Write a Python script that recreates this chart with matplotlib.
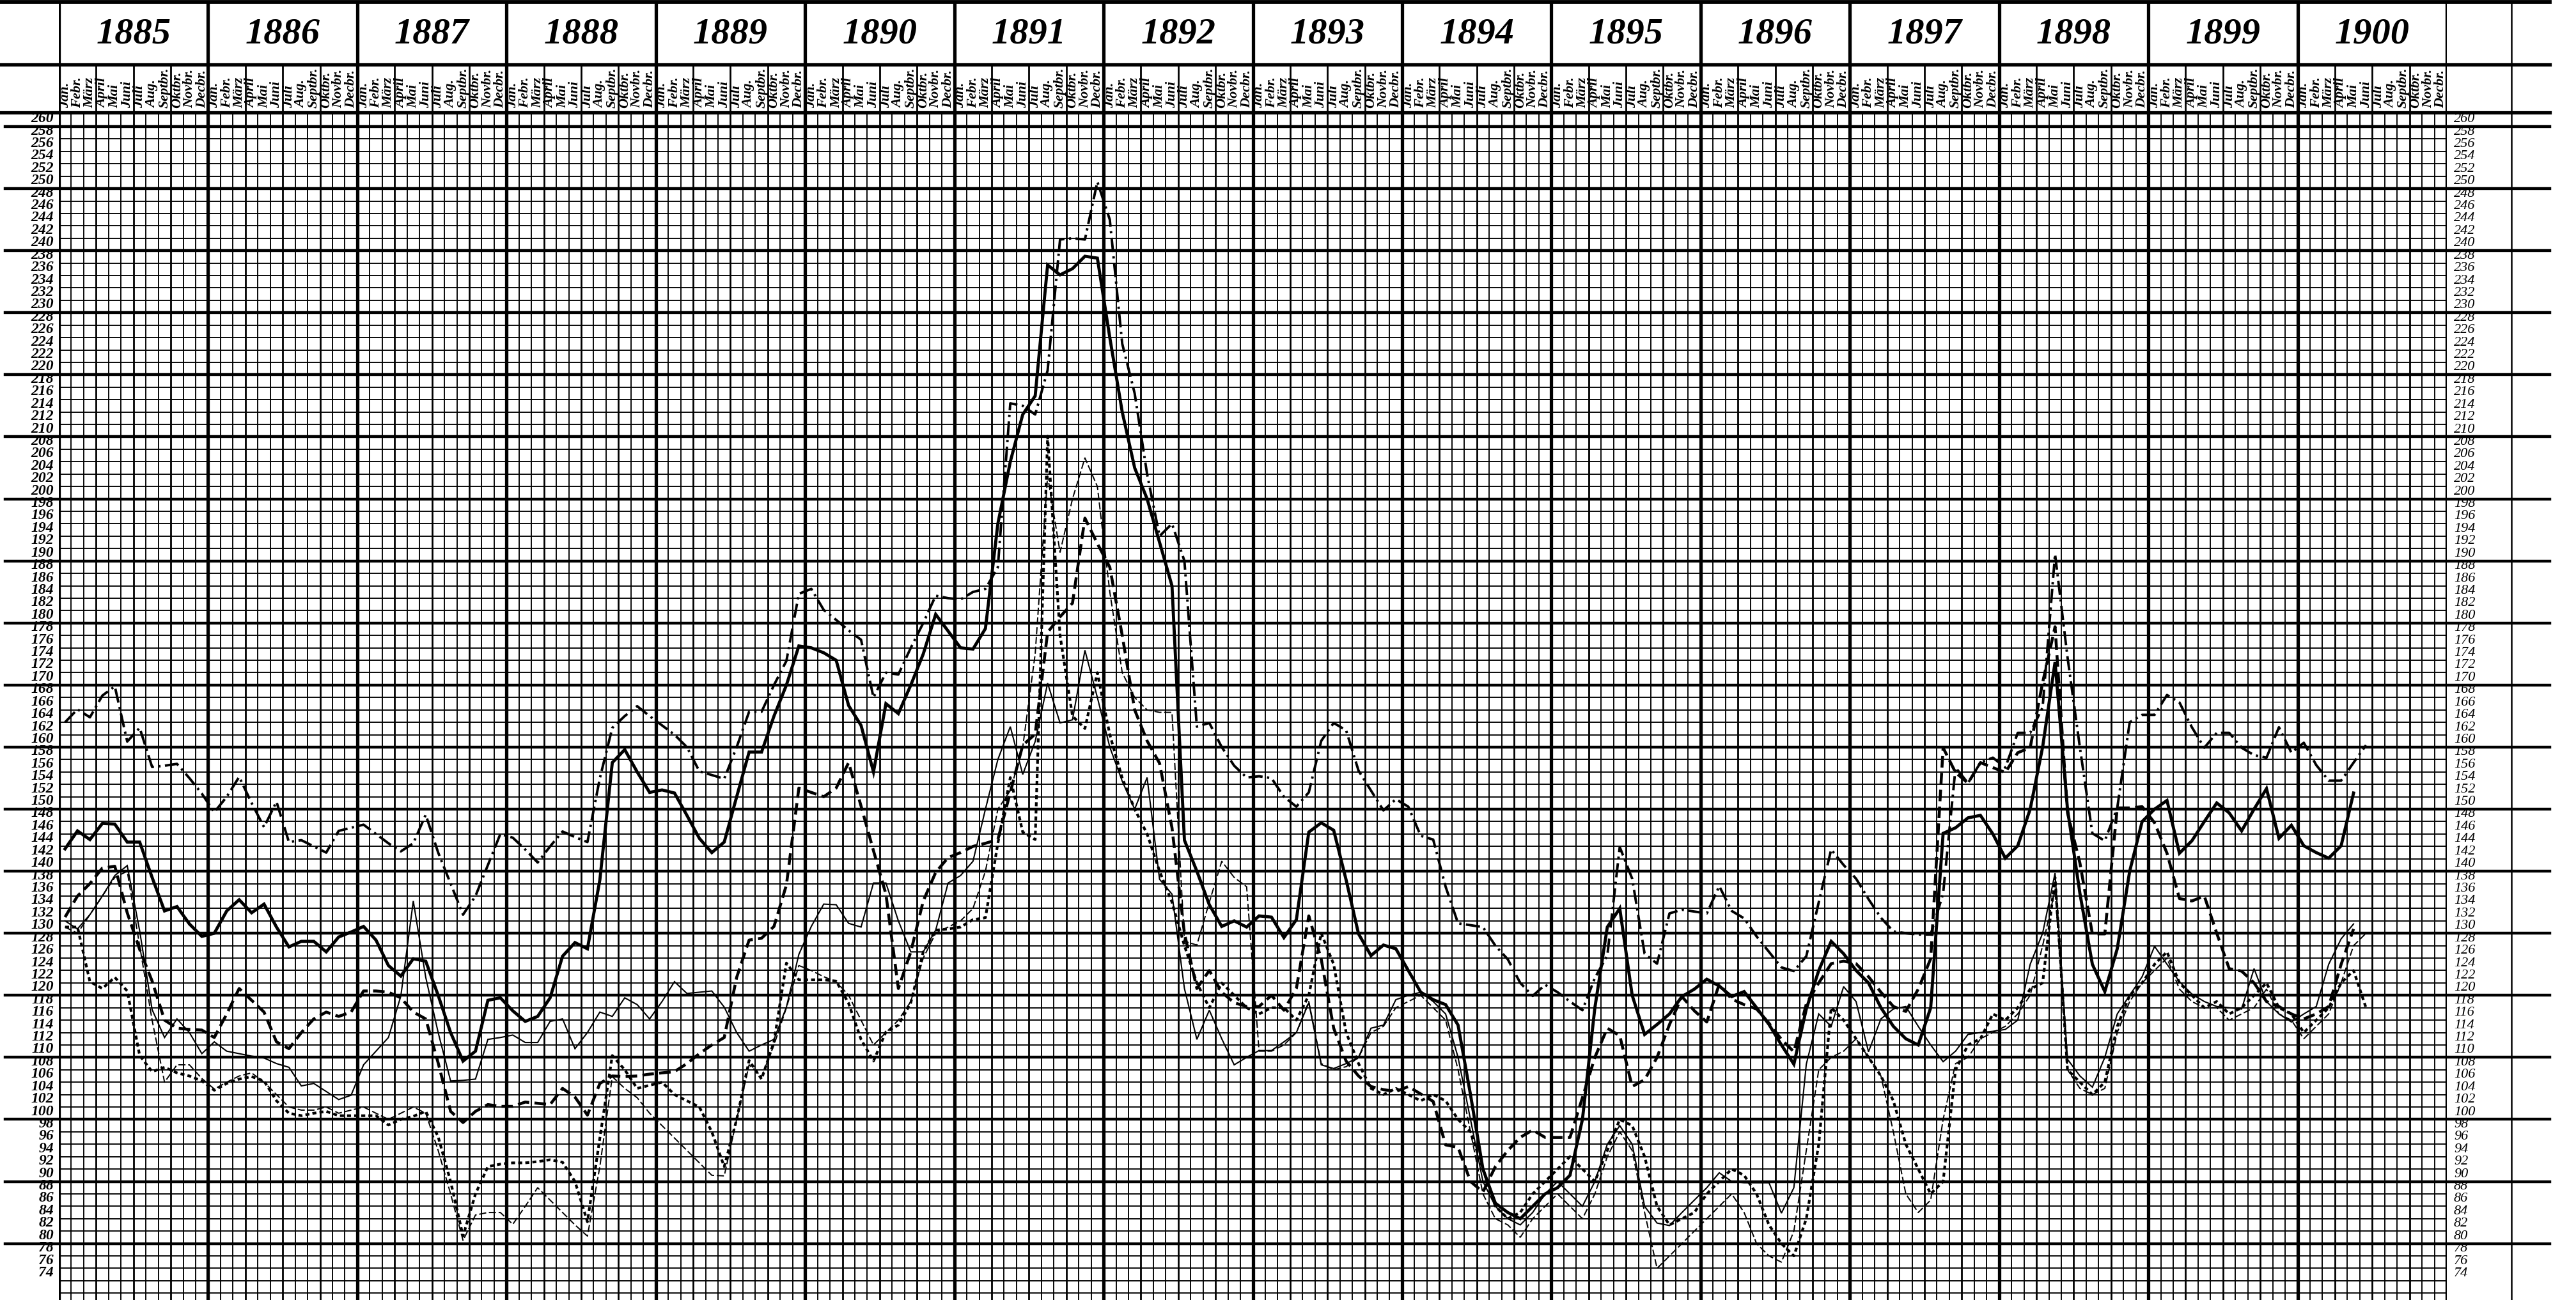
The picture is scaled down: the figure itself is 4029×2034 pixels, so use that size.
import numpy as np
import matplotlib
matplotlib.use('Agg')
import matplotlib.pyplot as plt
from matplotlib.lines import Line2D
from matplotlib.transforms import blended_transform_factory

plt.rcParams['lines.scale_dashes'] = False
plt.rcParams['font.family'] = ['Liberation Serif', 'DejaVu Serif']

# categories
years = list(range(1885, 1901))
month_names = ['Jan.', 'Febr.', 'März', 'April', 'Mai', 'Juni',
               'Juli', 'Aug.', 'Septbr.', 'Oktbr.', 'Novbr.', 'Decbr.']
y_labels = list(range(260, 73, -2))

# monthly values, first value = Jan 1885
dashdot = [
    164.0, 166.1, 164.8, 168.3, 169.8, 160.9, 163.1, 156.8, 157.0, 157.3, 155.0, 152.5,
    149.5, 152.0, 155.2, 151.0, 147.1, 151.2, 144.7, 145.0, 144.0, 143.0, 146.5, 147.0,
    147.5, 146.0, 144.5, 143.2, 144.5, 149.1, 143.0, 138.0, 133.0, 136.0, 141.0, 146.0,
    145.4, 143.5, 141.4, 144.0, 146.4, 145.5, 144.7, 155.0, 163.1, 165.0, 166.6, 165.0,
    163.5, 162.0, 160.0, 156.1, 155.5, 154.9, 160.0, 165.7, 165.7, 170.0, 173.9, 184.7,
    185.5, 182.1, 180.5, 178.8, 177.3, 168.0, 172.0, 171.7, 176.0, 180.0, 184.4, 184.0,
    183.8, 185.0, 185.5, 189.0, 215.4, 215.0, 213.6, 220.7, 241.8, 242.0, 241.8, 251.1,
    245.0, 225.0, 217.0, 204.0, 194.0, 196.0, 190.0, 163.3, 163.9, 160.0, 157.0, 155.1,
    155.3, 155.0, 152.0, 150.4, 152.7, 161.0, 163.9, 162.7, 156.2, 153.0, 149.8, 151.6,
    150.4, 145.7, 145.1, 137.5, 131.6, 131.3, 131.0, 128.0, 125.8, 122.0, 119.9, 121.7,
    120.5, 119.0, 117.6, 122.8, 126.4, 143.9, 138.8, 126.7, 125.1, 133.2, 133.8, 133.5,
    133.2, 137.6, 133.6, 132.4, 129.5, 127.0, 124.5, 123.9, 126.3, 135.0, 143.5, 141.0,
    138.8, 135.5, 132.5, 130.3, 130.0, 129.8, 129.8, 136.4, 156.7, 154.2, 157.5, 158.3,
    156.7, 162.3, 162.3, 166.4, 191.1, 174.5, 159.9, 146.1, 144.9, 150.2, 164.0, 165.2,
    165.2, 168.4, 167.2, 163.2, 159.9, 162.3, 162.3, 159.9, 158.7, 158.3, 163.2, 159.1,
    160.7, 157.1, 154.6, 154.6, 157.5, 160.3,
]

solid = [
    143.6, 146.5, 145.1, 147.7, 147.6, 144.7, 144.7, 139.0, 133.6, 134.3, 131.5, 129.5,
    130.0, 133.6, 135.4, 133.3, 134.7, 131.0, 127.8, 128.7, 128.7, 127.0, 129.4, 130.2,
    131.1, 128.9, 124.8, 123.1, 125.9, 125.5, 120.0, 114.0, 109.4, 111.0, 119.2, 119.6,
    117.5, 115.8, 116.6, 119.6, 126.3, 128.5, 127.5, 138.6, 157.5, 159.6, 156.0, 152.7,
    153.1, 152.6, 149.0, 145.3, 143.0, 144.7, 152.0, 159.2, 159.2, 165.0, 170.0, 176.3,
    176.0, 175.2, 174.0, 166.7, 163.5, 156.0, 167.0, 165.4, 170.0, 175.0, 181.4, 178.7,
    176.0, 175.8, 179.1, 196.0, 206.0, 213.6, 216.6, 237.7, 236.1, 237.1, 239.1, 238.8,
    226.0, 214.0, 205.0, 200.0, 193.0, 186.0, 145.0, 140.0, 134.6, 131.1, 132.0, 131.0,
    132.8, 132.6, 129.3, 132.2, 146.3, 147.8, 146.6, 138.6, 129.9, 126.4, 128.1, 127.5,
    124.0, 120.5, 119.3, 118.5, 115.2, 104.0, 92.0, 86.5, 85.0, 84.0, 86.0, 88.0,
    89.0, 91.0, 100.0, 118.0, 131.0, 134.0, 120.0, 113.7, 115.3, 117.0, 119.8, 121.0,
    122.6, 121.5, 119.8, 120.6, 118.0, 115.3, 112.0, 108.9, 117.8, 124.0, 128.7, 126.7,
    124.0, 122.0, 118.0, 115.0, 113.0, 112.0, 118.0, 146.1, 147.0, 148.6, 149.0, 146.0,
    142.1, 144.1, 150.0, 160.0, 173.7, 150.0, 136.4, 125.0, 120.6, 127.5, 140.0, 148.0,
    150.0, 151.4, 142.9, 144.9, 148.0, 151.0, 149.4, 146.5, 150.0, 153.3, 145.3, 147.4,
    144.1, 143.0, 142.1, 144.1, 152.6,
]

dashed = [
    132.6, 136.0, 138.0, 140.5, 140.8, 133.3, 127.4, 122.3, 116.0, 114.7, 114.5, 114.4,
    113.2, 117.0, 121.1, 119.2, 117.3, 112.5, 111.4, 114.0, 116.2, 117.3, 116.6, 117.3,
    120.7, 120.7, 120.5, 119.6, 117.3, 116.2, 109.1, 101.3, 99.5, 101.3, 102.4, 102.1,
    102.1, 102.8, 102.6, 102.4, 105.0, 103.6, 100.7, 105.8, 107.0, 106.9, 107.0, 107.3,
    107.5, 107.7, 109.0, 110.6, 112.0, 113.2, 122.9, 128.9, 129.2, 131.1, 137.8, 153.4,
    152.7, 152.0, 153.4, 157.5, 150.5, 143.3, 136.3, 121.1, 127.0, 135.2, 139.8, 142.2,
    143.0, 144.0, 144.5, 145.1, 152.7, 160.3, 162.1, 178.5, 181.0, 183.2, 196.9, 192.8,
    189.0, 178.0, 166.0, 161.0, 157.4, 147.0, 130.0, 121.1, 124.0, 120.5, 118.8, 118.2,
    118.2, 120.0, 117.6, 121.1, 132.8, 125.8, 114.7, 109.4, 107.0, 105.3, 104.8, 104.5,
    105.3, 104.1, 102.9, 95.9, 95.5, 90.0, 88.3, 92.4, 95.0, 97.1, 98.3, 97.1,
    97.1, 97.1, 103.5, 110.0, 114.7, 113.5, 105.3, 106.4, 110.0, 115.3, 119.8, 117.5,
    115.7, 121.8, 119.4, 118.5, 117.8, 115.5, 112.9, 110.9, 118.6, 122.0, 125.1, 125.5,
    125.1, 123.0, 120.5, 118.2, 117.4, 121.0, 125.9, 159.9, 155.9, 154.2, 157.5, 156.7,
    155.9, 159.1, 159.9, 170.4, 179.4, 149.4, 141.3, 129.9, 129.9, 150.2, 150.2, 150.4,
    147.8, 142.9, 135.6, 135.2, 136.0, 130.0, 124.3, 123.9, 122.0, 119.0, 118.2, 117.0,
    116.2, 117.0, 118.2, 125.0, 130.7,
]

thin = [
    132.0, 130.7, 133.0, 136.0, 139.3, 140.9, 130.4, 117.7, 113.2, 116.2, 114.0, 110.6,
    112.5, 111.0, 110.6, 110.2, 109.9, 109.0, 108.4, 105.4, 105.8, 104.5, 103.2, 103.9,
    108.8, 111.0, 113.2, 119.9, 135.2, 122.9, 114.0, 106.2, 106.3, 106.5, 112.9, 113.2,
    113.6, 112.4, 112.4, 115.8, 116.2, 111.4, 114.0, 117.3, 116.6, 119.6, 118.5, 116.2,
    119.0, 122.2, 120.3, 120.5, 120.7, 118.1, 114.0, 111.0, 112.0, 112.9, 118.1, 126.6,
    131.1, 134.7, 134.6, 131.6, 131.0, 138.1, 138.1, 132.0, 127.0, 127.0, 130.5, 138.1,
    139.3, 141.6, 150.0, 158.0, 163.3, 155.6, 160.9, 170.3, 163.9, 164.4, 175.6, 168.0,
    160.0, 154.5, 150.0, 155.1, 138.7, 136.3, 121.1, 112.9, 117.6, 113.0, 108.8, 110.0,
    111.1, 111.1, 112.5, 114.0, 118.8, 108.8, 108.2, 109.0, 110.0, 114.7, 115.2, 119.3,
    120.0, 120.5, 119.0, 117.0, 110.0, 100.0, 90.0, 86.0, 84.0, 83.0, 85.0, 88.0,
    90.0, 88.0, 86.0, 90.0, 96.0, 99.0, 96.0, 86.0, 83.3, 82.9, 85.0, 87.0,
    89.0, 91.4, 90.0, 89.8, 89.8, 89.8, 84.9, 89.0, 108.9, 117.0, 115.0, 121.4,
    119.0, 110.9, 116.2, 117.8, 118.2, 115.0, 112.0, 109.3, 111.0, 113.7, 114.0, 114.2,
    114.5, 116.0, 125.0, 130.0, 139.7, 109.7, 107.0, 105.2, 110.0, 117.0, 120.0, 123.0,
    127.9, 125.0, 122.2, 120.2, 119.0, 118.2, 118.0, 117.8, 124.3, 119.0, 117.0, 115.7,
    117.0, 118.2, 125.0, 129.1, 131.5,
]

dotted = [
    131.0, 131.0, 122.2, 121.1, 122.9, 120.7, 110.3, 107.7, 108.4, 107.5, 107.0, 106.2,
    104.7, 105.8, 106.5, 106.9, 106.2, 103.0, 101.0, 100.6, 101.0, 101.3, 100.6, 100.6,
    100.6, 100.6, 99.1, 100.0, 100.5, 101.3, 97.2, 90.0, 81.2, 88.0, 92.4, 92.8,
    93.0, 93.0, 93.2, 93.5, 93.1, 90.0, 83.5, 97.0, 110.3, 108.0, 105.0, 105.5,
    106.0, 104.0, 103.0, 102.0, 98.0, 92.4, 100.0, 109.5, 106.5, 112.5, 125.2, 122.5,
    122.5, 122.5, 122.3, 118.7, 112.9, 109.4, 114.1, 115.2, 118.8, 127.0, 130.5, 130.7,
    131.0, 132.2, 132.5, 144.5, 155.1, 146.3, 145.1, 210.1, 178.0, 165.0, 163.0, 172.0,
    162.0, 155.0, 150.0, 146.0, 140.0, 135.0, 128.0, 122.0, 118.0, 122.0, 120.0, 118.0,
    117.0, 118.0, 118.0, 116.0, 120.0, 130.0, 125.0, 114.0, 109.0, 105.0, 104.0, 105.0,
    104.0, 103.0, 104.0, 103.0, 100.0, 98.0, 92.0, 86.0, 84.0, 85.0, 88.0, 90.0,
    92.0, 94.0, 92.0, 90.0, 95.0, 100.0, 99.0, 94.0, 86.0, 83.0, 84.0, 85.0,
    88.0, 90.0, 92.0, 91.0, 88.0, 83.0, 80.0, 78.0, 84.0, 96.0, 118.0, 116.0,
    113.0, 110.0, 107.0, 103.0, 96.0, 92.0, 88.0, 90.0, 108.0, 112.0, 113.0, 117.0,
    116.0, 118.0, 121.0, 122.0, 139.0, 108.0, 106.0, 104.0, 106.0, 115.0, 120.0, 122.0,
    125.0, 127.0, 122.0, 120.0, 118.0, 119.0, 117.0, 118.0, 120.0, 122.0, 118.0, 117.0,
    114.0, 116.0, 118.0, 122.0, 124.0, 118.0,
]

thin_dashed = [
    131.0, 130.0, 133.0, 136.0, 139.0, 140.0, 128.0, 116.0, 106.0, 108.8, 108.8, 106.6,
    104.9, 106.0, 107.0, 107.5, 106.0, 104.0, 102.0, 101.5, 101.5, 102.0, 101.0, 101.5,
    102.0, 101.0, 100.0, 101.0, 102.0, 101.0, 95.0, 88.0, 80.5, 84.6, 85.0, 85.0,
    83.1, 86.0, 89.0, 87.0, 85.0, 83.0, 81.2, 92.4, 106.9, 105.0, 103.5, 101.0,
    99.0, 97.0, 95.0, 93.0, 91.0, 90.9, 100.0, 108.8, 106.9, 112.0, 118.0, 124.8,
    124.0, 123.0, 122.2, 120.0, 116.0, 112.0, 114.0, 116.0, 119.0, 126.0, 130.0, 131.0,
    132.0, 134.0, 140.0, 150.0, 153.0, 160.0, 175.0, 203.7, 191.4, 200.0, 206.6, 202.0,
    185.0, 172.0, 168.0, 166.0, 165.6, 165.6, 128.7, 128.1, 135.0, 141.6, 139.0, 137.5,
    111.0, 111.0, 112.0, 114.0, 119.0, 109.0, 108.0, 108.5, 110.0, 114.0, 115.0, 118.0,
    119.0, 120.0, 118.0, 116.0, 108.0, 98.0, 88.0, 84.0, 83.0, 81.0, 84.0, 86.0,
    88.0, 86.0, 84.0, 88.0, 94.0, 98.0, 95.0, 85.0, 76.0, 78.0, 80.0, 82.0,
    84.0, 86.0, 88.0, 85.0, 80.0, 78.0, 77.0, 82.0, 95.0, 108.0, 110.0, 111.0,
    113.0, 110.0, 107.0, 98.0, 88.0, 85.0, 87.0, 100.0, 109.0, 110.0, 113.0, 114.0,
    115.0, 117.0, 120.0, 128.0, 137.0, 108.0, 105.0, 104.0, 105.0, 114.0, 119.0, 122.0,
    124.0, 126.0, 121.0, 119.0, 118.0, 118.0, 116.0, 117.0, 118.0, 121.0, 117.0, 116.0,
    113.0, 115.0, 117.0, 122.0, 128.0, 130.0,
]

W, H = 4029, 2034
X0, X1 = 92, 3827          # grid left / right (px)
Y_TOP, Y_MID, Y_HEAD = 176, 101, 3   # grid top, year-row bottom, top border (px)

fig = plt.figure(figsize=(W / 100, H / 100), dpi=100)
fig.patch.set_facecolor('white')

n_months = 12 * len(years)

# main grid axes
ax = fig.add_axes([X0 / W, 0, (X1 - X0) / W, (H - Y_TOP) / H])
ax.set_xlim(0, n_months)
ax.set_ylim(70.9, 262.27)
ax.axis('off')

# header axes (year row + month row) sharing the month scale
hdr = fig.add_axes([X0 / W, (H - Y_TOP) / H, (X1 - X0) / W, (Y_TOP - Y_HEAD) / H])
hdr.set_xlim(0, n_months)
hdr.set_ylim(0, 1)
hdr.axis('off')
row_split = (Y_TOP - Y_MID) / (Y_TOP - Y_HEAD)

# vertical grid lines
for m in range(n_months + 1):
    if m % 12 == 0:
        lw = 3.8
        hdr.axvline(m, color='black', lw=lw)
    elif m % 3 == 0:
        lw = 2.0
        hdr.plot([m, m], [0, row_split], color='black', lw=lw)
    else:
        lw = 1.35
    ax.axvline(m, color='black', lw=lw, zorder=1)

# horizontal grid lines, heavy every 10 reaching into the label columns
heavy_tr = blended_transform_factory(fig.transFigure, ax.transData)
for v in range(72, 261, 2):
    if v % 10 == 0:
        ax.add_line(Line2D([8 / W, 3988 / W], [v, v], transform=heavy_tr,
                           color='black', lw=3.2, clip_on=False, zorder=1))
    else:
        ax.axhline(v, color='black', lw=1.35, zorder=1)

# header rules
for ypx, lw in [(Y_HEAD, 4.2), (Y_MID, 3.8), (Y_TOP, 3.8)]:
    fig.add_artist(Line2D([0, 3988 / W], [1 - ypx / H, 1 - ypx / H],
                          transform=fig.transFigure, color='black', lw=lw))
fig.add_artist(Line2D([3928 / W, 3928 / W], [0, 1 - Y_HEAD / H],
                      transform=fig.transFigure, color='black', lw=1.8))

# year and month labels
for k, yr in enumerate(years):
    hdr.text(12 * k + 6, row_split + (1 - row_split) * 0.48, str(yr),
             ha='center', va='center', fontsize=42, style='italic', weight='bold')
    for j, name in enumerate(month_names):
        hdr.text(12 * k + j + 0.5, 0.04, name, rotation=90, ha='center',
                 va='bottom', fontsize=16, style='italic', weight='bold')

# value labels left and right
for v in y_labels:
    ax.text(84 / W, v + 0.2, str(v), transform=heavy_tr, ha='right', va='bottom',
            fontsize=17, style='italic', weight='bold')
    ax.text(3838 / W, v + 0.2, str(v), transform=heavy_tr, ha='left', va='bottom',
            fontsize=16, style='italic')

# the price curves
series = [
    (dashdot, dict(lw=2.8, dashes=(16, 5, 2.5, 5))),
    (solid, dict(lw=3.5)),
    (dashed, dict(lw=3.3, dashes=(13, 6))),
    (thin, dict(lw=1.5)),
    (dotted, dict(lw=3.0, dashes=(4.5, 3.5))),
    (thin_dashed, dict(lw=1.4, dashes=(8, 3))),
]
for vals, style in series:
    x = np.arange(len(vals)) + 0.5
    ax.plot(x, vals, color='black', zorder=3, solid_joinstyle='miter', **style)

fig.savefig('out.png', dpi=100, facecolor='white')
